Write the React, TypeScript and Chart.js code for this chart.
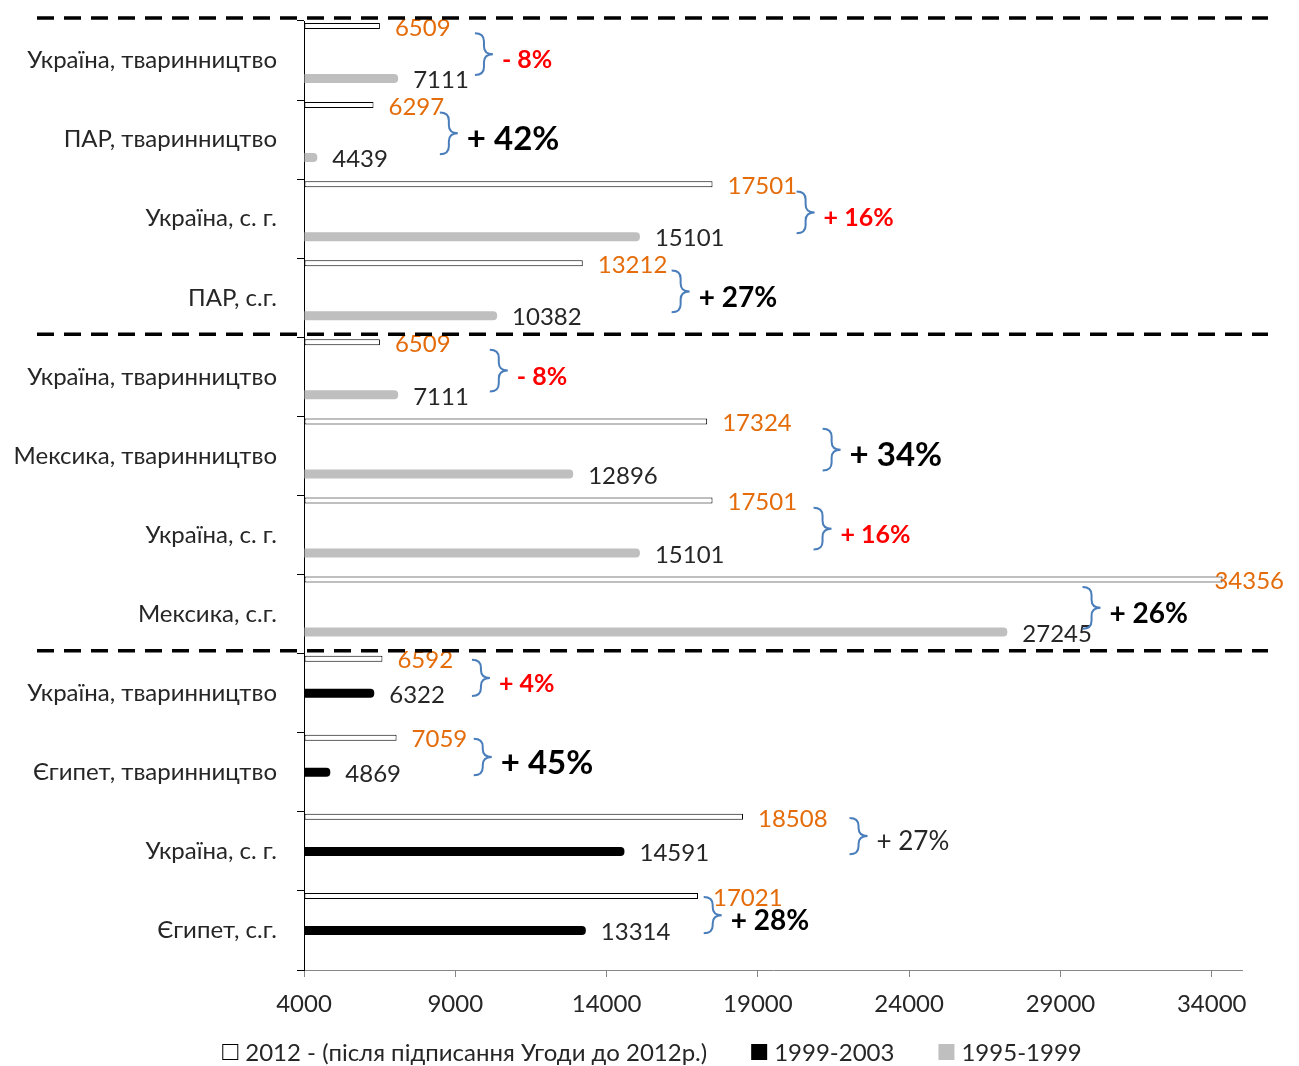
import React, { useEffect, useRef } from "react";
import { Chart, registerables } from "chart.js";

Chart.register(...registerables);

// ---------- data ----------
const categories = [
  "Україна, тваринництво",
  "ПАР, тваринництво",
  "Україна, с. г.",
  "ПАР, с.г.",
  "Україна, тваринництво",
  "Мексика, тваринництво",
  "Україна, с. г.",
  "Мексика, с.г.",
  "Україна, тваринництво",
  "Єгипет, тваринництво",
  "Україна, с. г.",
  "Єгипет, с.г.",
];

const seriesNames = [
  "2012 - (після підписання Угоди до 2012р.)",
  "1999-2003",
  "1995-1999",
];

const values2012 = [6509, 6297, 17501, 13212, 6509, 17324, 17501, 34356, 6592, 7059, 18508, 17021];
const values1999_2003 = [null, null, null, null, null, null, null, null, 6322, 4869, 14591, 13314];
const values1995_1999 = [7111, 4439, 15101, 10382, 7111, 12896, 15101, 27245, null, null, null, null];

const changeLabels = ["- 8%", "+ 42%", "+ 16%", "+ 27%", "- 8%", "+ 34%", "+ 16%", "+ 26%", "+ 4%", "+ 45%", "+ 27%", "+ 28%"];
const changeKinds = ["red", "big", "red", "mid", "red", "big", "red", "mid", "red", "big", "plain", "mid"];
// where the hand-placed braces sit, in axis units
const braceAt = [9650, 8490, 20280, 16150, 10140, 21140, 20840, 29730, 9550, 9610, 22030, 17210];

const xTicks = [4000, 9000, 14000, 19000, 24000, 29000, 34000];
const groupStarts = [0, 4, 8];

// ---------- styles ----------
const FONT = "Lato";
const TEXT = "#262626";
const ORANGE = "#E46C0A";
const BLUE = "#4A7EBB";

const kindStyle: Record<string, { size: number; weight: string; color: string }> = {
  red: { size: 25, weight: "bold", color: "#FF0000" },
  big: { size: 33, weight: "bold", color: "#000000" },
  mid: { size: 28, weight: "bold", color: "#000000" },
  plain: { size: 26, weight: "normal", color: "#262626" },
};

const annotations = {
  id: "annotations",
  afterDraw(chart: any) {
    const ctx = chart.ctx as CanvasRenderingContext2D;
    const xs = chart.scales.x;
    const ys = chart.scales.y;
    const ca = chart.chartArea;
    const band = (ca.bottom - ca.top) / categories.length;

    // value labels
    ctx.save();
    ctx.font = `24px ${FONT}`;
    ctx.textBaseline = "middle";
    ctx.textAlign = "left";
    [0, 1, 2].forEach((di) => {
      const meta = chart.getDatasetMeta(di);
      meta.data.forEach((el: any, k: number) => {
        const raw = (meta._parsed[k] || {}).x;
        if (raw == null || isNaN(raw)) return;
        const txt = String(raw);
        const w = ctx.measureText(txt).width;
        let tx = el.x + 15;
        if (tx + w > chart.width - 15) tx = chart.width - 15 - w;
        ctx.fillStyle = di === 0 ? ORANGE : TEXT;
        ctx.fillText(txt, tx, el.y + 2);
      });
    });
    ctx.restore();

    // braces + percentage labels
    const white = chart.getDatasetMeta(0).data;
    const lowerY: number[] = [];
    [1, 2].forEach((di) => {
      const meta = chart.getDatasetMeta(di);
      meta.data.forEach((el: any, k: number) => {
        const p = meta._parsed[k];
        if (!p || p.x == null || isNaN(p.x)) return;
        lowerY[p.y] = el.y;
      });
    });
    categories.forEach((_, i) => {
      const wy = white[i].y;
      const ly = lowerY[i];
      const mid = (wy + ly) / 2 + 2;
      const half = 0.15 * (ly - wy) + 13;
      const t = mid - half;
      const b = mid + half;
      const x0 = xs.getPixelForValue(braceAt[i]);
      const w = 18;
      const r = 8;
      ctx.save();
      ctx.strokeStyle = BLUE;
      ctx.lineWidth = 2;
      ctx.beginPath();
      ctx.moveTo(x0, t);
      ctx.quadraticCurveTo(x0 + w / 2, t, x0 + w / 2, t + r);
      ctx.lineTo(x0 + w / 2, mid - r);
      ctx.quadraticCurveTo(x0 + w / 2, mid, x0 + w, mid);
      ctx.moveTo(x0 + w, mid);
      ctx.quadraticCurveTo(x0 + w / 2, mid, x0 + w / 2, mid + r);
      ctx.lineTo(x0 + w / 2, b - r);
      ctx.quadraticCurveTo(x0 + w / 2, b, x0, b);
      ctx.stroke();
      const st = kindStyle[changeKinds[i]];
      ctx.font = `${st.weight} ${st.size}px ${FONT}`;
      ctx.fillStyle = st.color;
      ctx.textBaseline = "middle";
      ctx.textAlign = "left";
      ctx.fillText(changeLabels[i], x0 + w + 9, mid + 6);
      ctx.restore();
    });

    // dashed separators
    ctx.save();
    ctx.strokeStyle = "#000";
    ctx.lineWidth = 3.5;
    ctx.setLineDash([17, 10]);
    groupStarts.forEach((g) => {
      const y = ys.getPixelForValue(g) - band / 2 - 3;
      ctx.beginPath();
      ctx.moveTo(37, y);
      ctx.lineTo(1268, y);
      ctx.stroke();
    });
    ctx.restore();

    // legend (built from the datasets)
    ctx.save();
    ctx.font = `24px ${FONT}`;
    ctx.textBaseline = "middle";
    ctx.textAlign = "left";
    const box = 16;
    const gap = 7;
    const itemGap = 44;
    const ds = chart.data.datasets;
    const widths = ds.map((d: any) => box + gap + ctx.measureText(d.label).width);
    const total = widths.reduce((a: number, b: number) => a + b, 0) + itemGap * (ds.length - 1);
    let lx = 652 - total / 2;
    const ly = 1052;
    ds.forEach((d: any, i: number) => {
      ctx.fillStyle = d.backgroundColor;
      ctx.fillRect(lx, ly - box / 2, box, box);
      if (d.borderWidth) {
        ctx.strokeStyle = d.borderColor;
        ctx.lineWidth = 1;
        ctx.strokeRect(lx + 0.5, ly - box / 2 + 0.5, box - 1, box - 1);
      }
      ctx.fillStyle = TEXT;
      ctx.fillText(d.label, lx + box + gap, ly + 1);
      lx += widths[i] + itemGap;
    });
    ctx.restore();
  },
};

export default function App() {
  const ref = useRef<HTMLCanvasElement>(null);

  useEffect(() => {
    if (!ref.current) return;
    Chart.defaults.font.family = FONT;
    const chart = new Chart(ref.current, {
      type: "bar",
      data: {
        labels: categories,
        datasets: [
          {
            label: seriesNames[0],
            data: values2012.map((v, i) => ({ x: v, y: i })) as any,
            yAxisID: "yw",
            grouped: false,
            backgroundColor: "#ffffff",
            borderColor: "#000000",
            borderWidth: 1,
            borderSkipped: false,
            maxBarThickness: 6,
            base: 4000,
          },
          {
            label: seriesNames[1],
            data: values1999_2003 as any,
            yAxisID: "y",
            grouped: false,
            backgroundColor: "#000000",
            borderWidth: 0,
            maxBarThickness: 9,
            borderRadius: 4,
            base: 4000,
          },
          {
            label: seriesNames[2],
            data: values1995_1999
              .map((v, i) => (v == null ? null : { x: v, y: i }))
              .filter((d) => d !== null) as any,
            yAxisID: "yg",
            grouped: false,
            backgroundColor: "#BFBFBF",
            borderWidth: 0,
            maxBarThickness: 9,
            borderRadius: 4,
            base: 4000,
          },
        ],
      },
      options: {
        indexAxis: "y",
        animation: false,
        responsive: true,
        maintainAspectRatio: false,
        events: [],
        layout: { padding: { top: 21, right: 57, left: 0, bottom: 44 } },
        scales: {
          x: {
            type: "linear",
            position: "bottom",
            min: 4000,
            max: 35000,
            afterBuildTicks: (s: any) => {
              s.ticks = xTicks.map((v) => ({ value: v }));
            },
            afterFit: (s: any) => {
              s.height = 52;
            },
            grid: { drawOnChartArea: false, tickLength: 7, color: "#868686" },
            border: { color: "#868686", width: 1 },
            ticks: {
              font: { family: FONT, size: 24 },
              color: TEXT,
              padding: 13,
              maxRotation: 0,
              callback: (v: any) => String(v),
            },
          },
          y: {
            type: "category",
            position: "left",
            offset: true,
            grid: { drawOnChartArea: false, tickLength: 7, color: "#000", offset: true },
            border: { color: "#000", width: 1 },
            ticks: { font: { family: FONT, size: 24 }, color: TEXT, padding: 20 },
            afterFit: (s: any) => {
              s.width = 304;
              s.paddingTop = 0;
              s.paddingBottom = 0;
            },
          },
          yw: { type: "linear", display: false, offset: false, reverse: true, min: -0.063, max: 11.937 },
          yg: { type: "linear", display: false, offset: false, reverse: true, min: -0.727, max: 11.273 },
        },
        plugins: {
          tooltip: { enabled: false },
          legend: { display: false },
        },
      },
      plugins: [annotations],
    });
    return () => chart.destroy();
  }, []);

  return (
    <div style={{ position: "fixed", left: 0, top: 0, width: "1299px", height: "1066px", background: "#fff" }}>
      <canvas ref={ref} />
    </div>
  );
}
